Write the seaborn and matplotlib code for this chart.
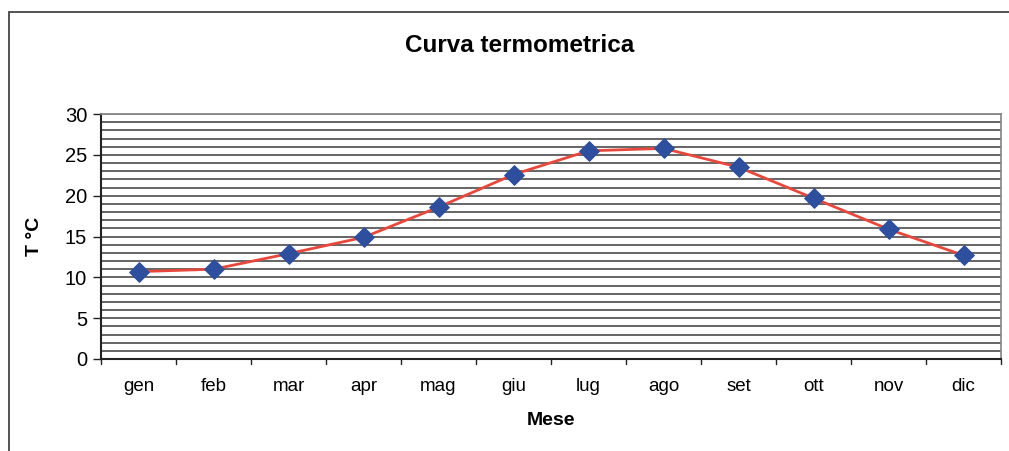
import matplotlib
matplotlib.use("Agg")
import matplotlib.pyplot as plt
import seaborn as sns
import pandas as pd
import numpy as np
from matplotlib.patches import Rectangle

months = ["gen", "feb", "mar", "apr", "mag", "giu", "lug", "ago", "set", "ott", "nov", "dic"]
temps = [10.7, 11.0, 12.9, 14.9, 18.6, 22.6, 25.5, 25.8, 23.5, 19.7, 15.9, 12.7]

sns.set_theme(style="white")
plt.rcParams['font.family'] = ['Liberation Sans', 'DejaVu Sans']
plt.rcParams['text.color'] = 'black'
plt.rcParams['axes.labelcolor'] = 'black'
plt.rcParams['xtick.color'] = 'black'
plt.rcParams['ytick.color'] = 'black'

df = pd.DataFrame({"Mese": months, "T": temps})

fig = plt.figure(figsize=(10.09, 4.51), dpi=100)
ax = fig.add_axes([0.1001, 0.204, 0.892, 0.543])

# outer frame
fig.patches.append(Rectangle((9/1009, -0.05), 1.2, 1 - 12/451 + 0.05, transform=fig.transFigure,
                             fill=False, edgecolor="#444444", linewidth=1.3))

x = np.arange(len(months))
for yv in np.arange(1, 31, 1):
    ax.axhline(yv, color="#3c3c3c", linewidth=1.1, zorder=0)

sns.lineplot(x=x, y=df["T"], ax=ax, color="#e8483c", linewidth=2, zorder=2)
sns.scatterplot(x=x, y=df["T"], ax=ax, marker="D", s=100, color="#2e4f9e", edgecolor="#2e4f9e", zorder=3)

ax.set_xlim(-0.5, 11.5)
ax.set_ylim(0, 30)
ax.set_yticks(np.arange(0, 31, 5))
ax.set_yticklabels([str(v) for v in range(0, 31, 5)], fontsize=14.5)
ax.set_xticks(x)
ax.set_xticklabels(months, fontsize=13.5)
ax.tick_params(axis="x", length=0, pad=14)
ax.tick_params(axis="y", which="major", left=True, length=6, width=1, color="#222222", pad=4)
# tick marks at category boundaries
for b in np.arange(-0.5, 12, 1):
    ax.plot([b, b], [0, -0.6], color="#222222", linewidth=1, clip_on=False, zorder=4)

for side in ["top", "right"]:
    ax.spines[side].set_color("#888888")
ax.spines["left"].set_color("#222222")
ax.spines["bottom"].set_color("#222222")
ax.spines["left"].set_linewidth(1.5)
ax.spines["bottom"].set_linewidth(1.5)

ax.set_xlabel("Mese", fontsize=14, fontweight="bold", labelpad=12)
ax.set_ylabel("T °C", fontsize=14, fontweight="bold", labelpad=16)
fig.text(0.515, 1 - 45/451, "Curva termometrica", ha="center", va="center", fontsize=17.5, fontweight="bold")

fig.savefig("out.png", dpi=100)
